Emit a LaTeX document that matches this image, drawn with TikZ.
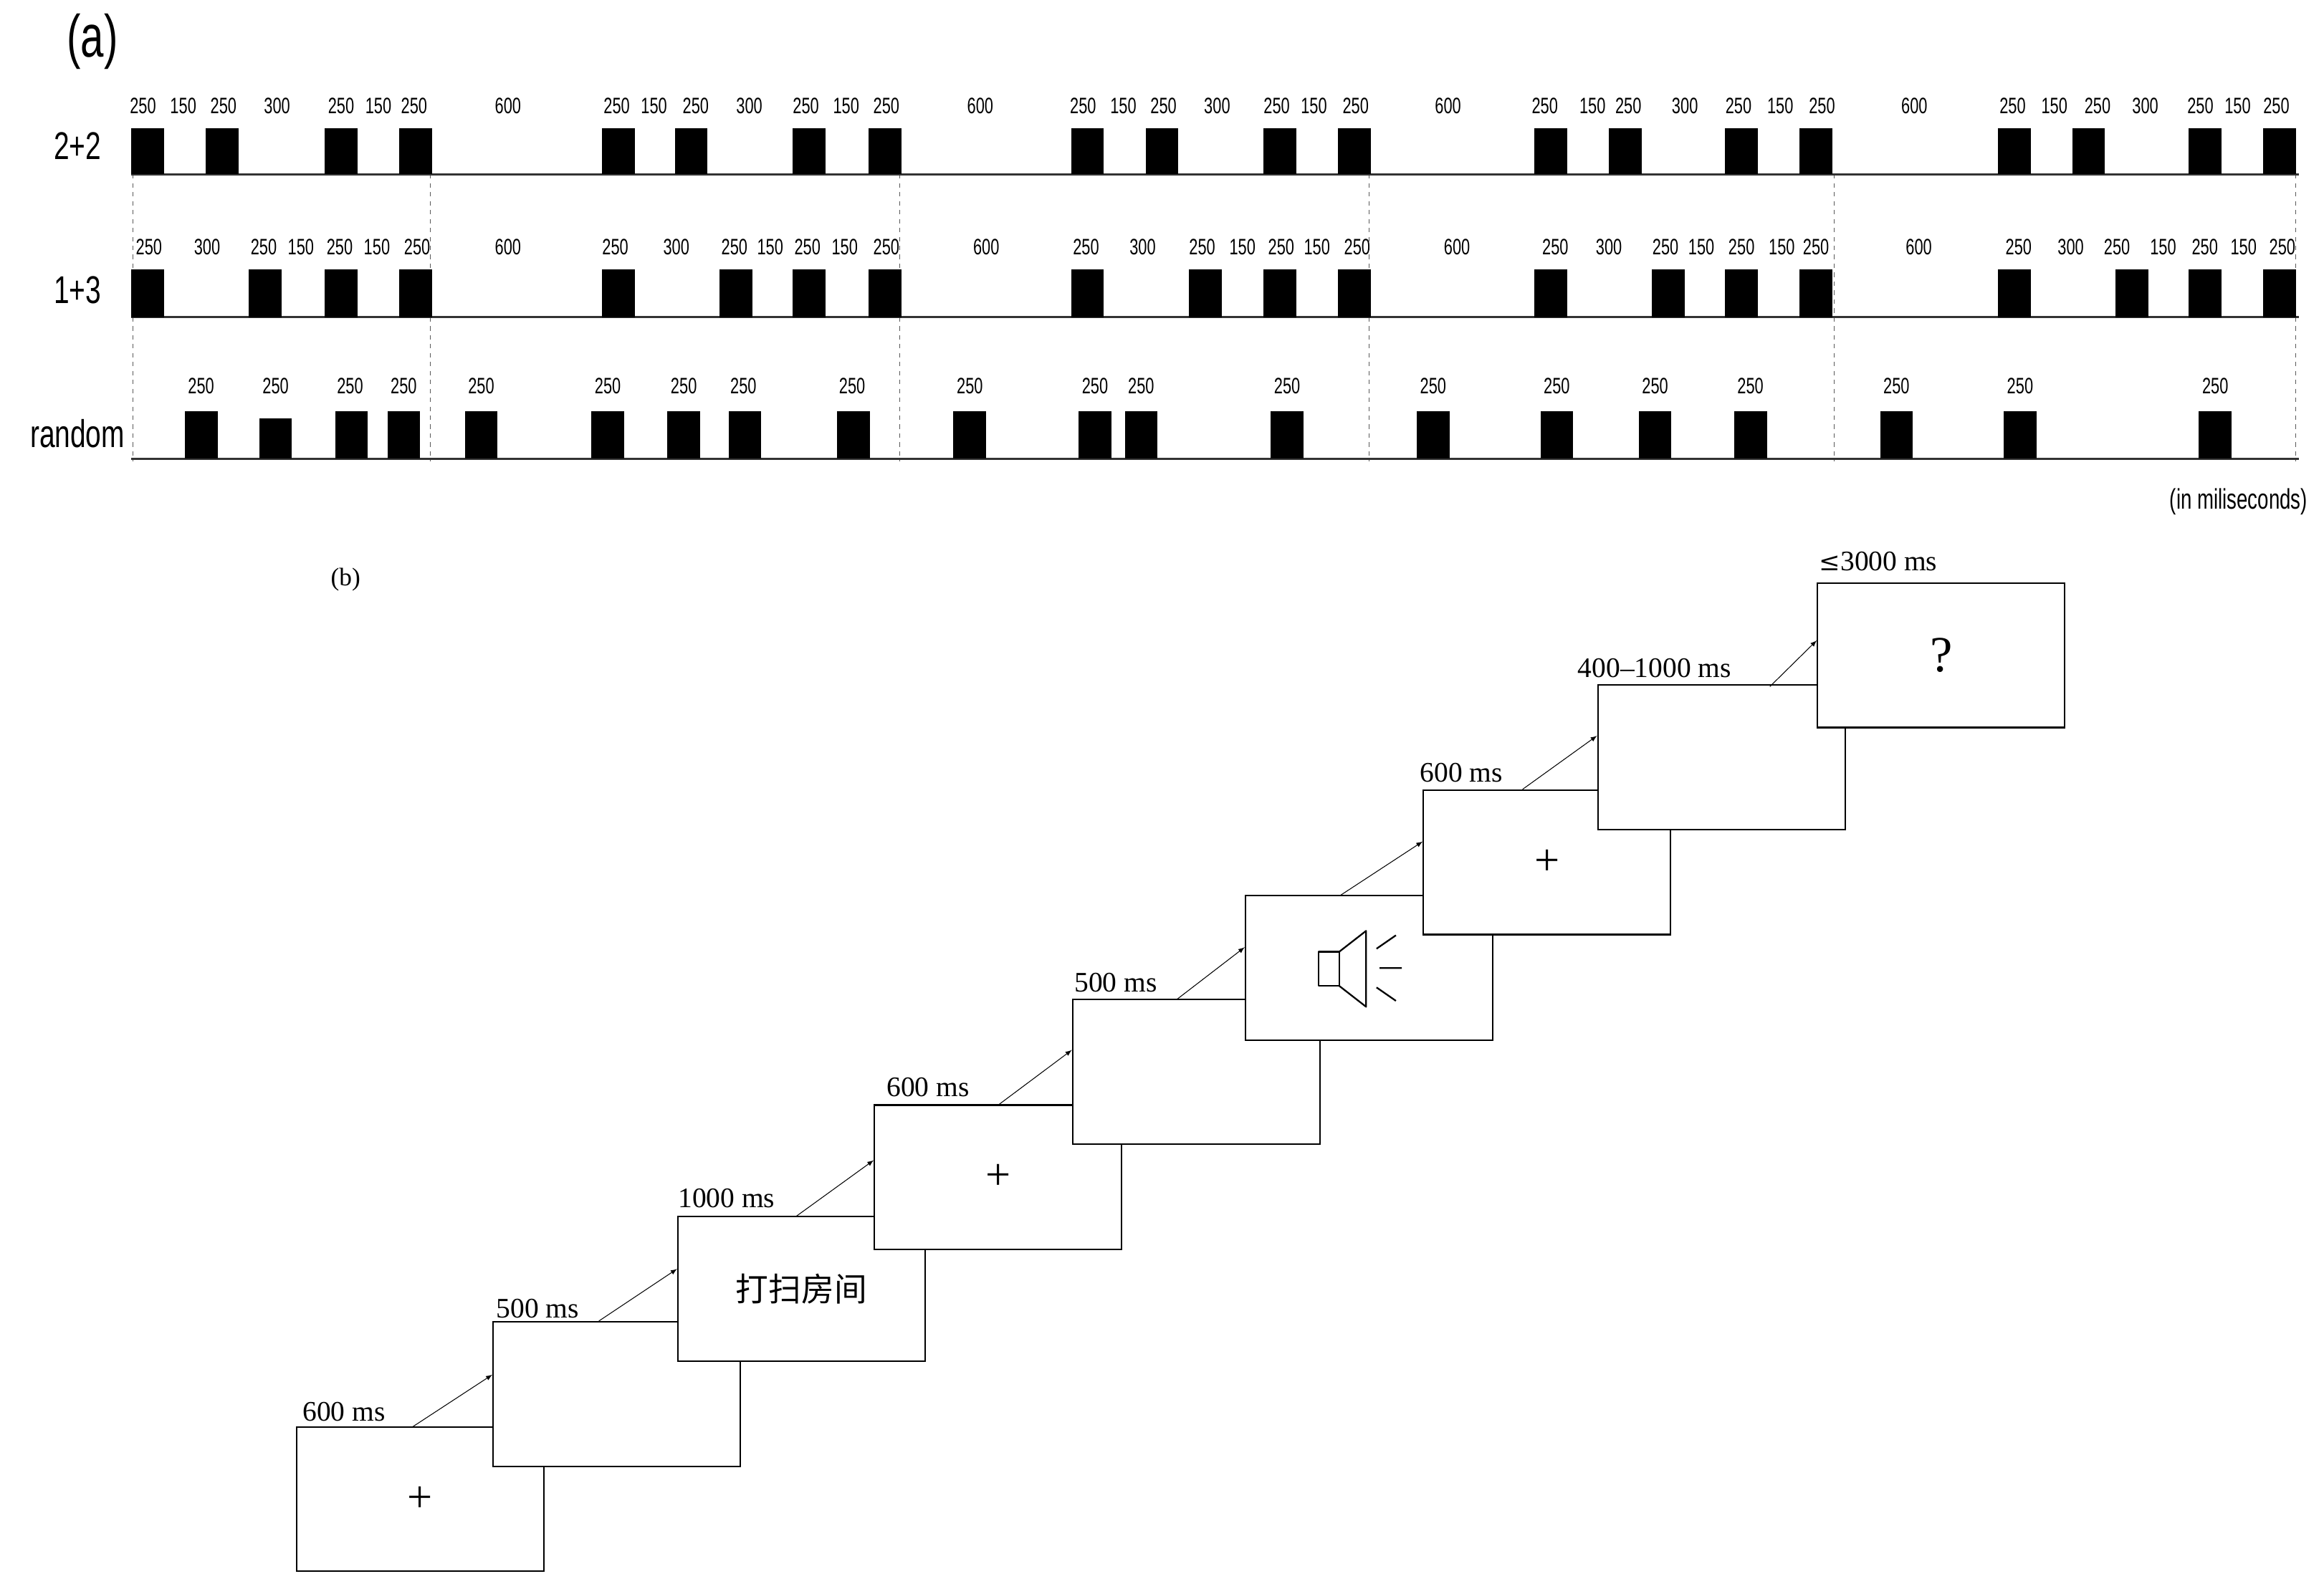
\documentclass[tikz,border=0pt]{standalone}
\usepackage{fontspec}
\setmainfont{Liberation Serif}
\newfontfamily\narrowsans{Liberation Sans}
\newfontfamily\cjk{Noto Sans CJK SC}
\newfontfamily\dejavu{DejaVu Serif}
\usetikzlibrary{calc}
\begin{document}
\begin{tikzpicture}[x=1pt,y=-1pt,
  blk/.style={fill=black},
  tl/.style={font=\narrowsans\fontsize{15}{15}\selectfont,xscale=0.7,anchor=center,inner sep=0},
  rowlab/.style={font=\narrowsans\fontsize{26}{26}\selectfont,xscale=0.72,inner sep=0},
  sep/.style={dashed,gray!70!black,line width=0.5pt},
  base/.style={line width=1.6pt,black!80},
  scr/.style={draw,line width=1pt,minimum width=166pt,minimum height=97pt,inner sep=0,fill=white},
  ms/.style={font=\fontsize{19}{19}\selectfont,inner sep=0,anchor=base west},
  arr/.style={-latex,line width=0.5pt}]
\useasboundingbox (0,0) rectangle (1560,1066.5);
% (a)
\node[font=\narrowsans\fontsize{40}{40}\selectfont,xscale=0.7,inner sep=0] (la) at (62,28) {(a)};
\node[rowlab] (r1) at (52,98) {2+2};
\node[rowlab] (r2) at (52,195) {1+3};
\node[rowlab] (r3) at (52,291) {random};
% dashed separators
\foreach \x in {89,289,604,919,1231,1541}{\draw[sep] (\x,117) -- (\x,310);}
% base lines
\draw[base] (88,117) -- (1543,117);
\draw[base] (88,213) -- (1543,213);
\draw[base] (88,308) -- (1543,308);
% blocks
\foreach \x in {88,138,218,268,404,453,532,583,719,769,848,898,1030,1080,1158,1208,1341,1391,1469,1519}
  {\fill[blk] (\x,86) rectangle ++(22,31);}
\foreach \x in {88,167,218,268,404,483,532,583,719,798,848,898,1030,1109,1158,1208,1341,1420,1469,1519}
  {\fill[blk] (\x,181) rectangle ++(22,32);}
\foreach \x in {124,225,260,312,397,448,489,562,640,724,755,853,951,1034,1100,1164,1262,1345,1476}
  {\fill[blk] (\x,276) rectangle ++(22,32);}
\fill[blk] (174,281) rectangle ++(22,27);
% labels row 1
\foreach \x/\t in {96/250,123/150,150/250,186/300,229/250,254/150,278/250,341/600,
 414/250,439/150,467/250,503/300,541/250,568/150,595/250,658/600,
 727/250,754/150,781/250,817/300,857/250,882/150,910/250,972/600,
 1037/250,1069/150,1093/250,1131/300,1167/250,1195/150,1223/250,1285/600,
 1351/250,1379/150,1408/250,1440/300,1477/250,1502/150,1528/250}
 {\node[tl] at (\x,71) {\t};}
% labels row 2
\foreach \x/\t in {100/250,139/300,177/250,202/150,228/250,253/150,280/250,341/600,
 413/250,454/300,493/250,517/150,542/250,567/150,595/250,662/600,
 729/250,767/300,807/250,834/150,860/250,884/150,911/250,978/600,
 1044/250,1080/300,1118/250,1142/150,1169/250,1196/150,1219/250,1288/600,
 1355/250,1390/300,1421/250,1452/150,1480/250,1506/150,1532/250}
 {\node[tl] at (\x,166) {\t};}
% labels row 3
\foreach \x in {135,185,235,271,323,408,459,499,572,651,735,766,864,962,1045,1111,1175,1273,1356,1487}
 {\node[tl] at (\x,259) {250};}
\node[tl,font=\narrowsans\fontsize{19}{19}\selectfont,anchor=east] (unit) at (1549,337) {(in miliseconds)};
% (b)
\node[font=\fontsize{17}{17}\selectfont,inner sep=0] (lb) at (232,389) {(b)};
\node[scr] (s1) at (282,1006.5) {\fontsize{30}{30}\selectfont +};
\node[scr] (s2) at (414,936) {};
\node[scr] (s3) at (538,865.5) {\cjk\fontsize{22}{22}\selectfont 打扫房间};
\node[scr] (s4) at (670,790.5) {\fontsize{30}{30}\selectfont +};
\node[scr] (s5) at (803,719.5) {};
\node[scr] (s6) at (919,650) {};
\node[scr] (s7) at (1038.5,579) {\fontsize{30}{30}\selectfont +};
\node[scr] (s8) at (1155.5,508.5) {};
\node[scr] (s9) at (1303,440) {\fontsize{34}{34}\selectfont ?};
% speaker icon
\draw[line width=1.1pt,line join=round] (885,639) rectangle (899,662);
\draw[line width=1.1pt,line join=round] (899,639) -- (917,625) -- (917,676) -- (899,662);
\draw[line width=1.1pt] (924,637) -- (937,628) (926,650) -- (941,650) (924,663) -- (937,672);
% timing labels
\node[ms] (t1) at (203,954) {600 ms};
\node[ms] (t2) at (333,885) {500 ms};
\node[ms] (t3) at (455,811) {1000 ms};
\node[ms] (t4) at (595,736) {600 ms};
\node[ms] (t5) at (721,666) {500 ms};
\node[ms] (t7) at (953,525) {600 ms};
\node[ms] (t8) at (1059,455) {400--1000 ms};
\node[ms] (t9) at (1221,383) {{\dejavu\fontsize{17}{17}\selectfont ≤}3000 ms};
% arrows
\coordinate (a1) at (277,958); \coordinate (a2) at (402,887);
\coordinate (a3) at (534,817); \coordinate (a4) at (670,742);
\coordinate (a5) at (790,671); \coordinate (a6) at (900,601);
\coordinate (a7) at (1022,530); \coordinate (a8) at (1188,461);
\draw[arr] (a1) -- (s2.west |- 0,923);
\draw[arr] (a2) -- (s3.west |- 0,852);
\draw[arr] (a3) -- (s4.west |- 0,779);
\draw[arr] (a4) -- (s5.west |- 0,705);
\draw[arr] (a5) -- (s6.west |- 0,636);
\draw[arr] (a6) -- (s7.west |- 0,565);
\draw[arr] (a7) -- (s8.west |- 0,494);
\draw[arr] (a8) -- (s9.west |- 0,430);
\end{tikzpicture}
\end{document}
